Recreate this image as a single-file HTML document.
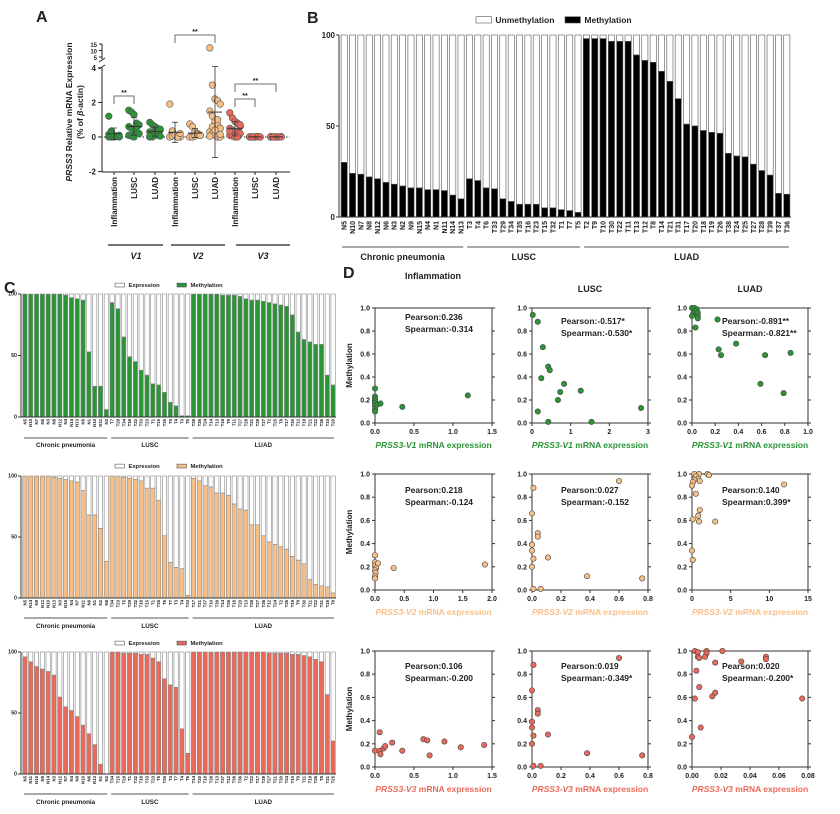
<!DOCTYPE html>
<html><head><meta charset="utf-8">
<style>
html,body{margin:0;padding:0;background:#fff;}
svg{display:block;font-family:"Liberation Sans",Arial,sans-serif;}
text{font-weight:bold;fill:#222;}
</style></head>
<body>
<svg id="fig" width="840" height="814" viewBox="0 0 840 814" xmlns="http://www.w3.org/2000/svg"></svg>
<script>
// ---------- Panel A data ----------
const aGroups = ['Inflammation','LUSC','LUAD','Inflammation','LUSC','LUAD','Inflammation','LUSC','LUAD'];
const aV1Infl = [1.2,0.35,0.1,0.05,0,0,0,0,0.05,0.1,0.15,0.2];
const aV1Lusc = [1.55,1.45,1.3,0.8,0.7,0.6,0.5,0.4,0.3,0.2,0.1,0.05,0,0.55];
const aV1Luad = [0.85,0.7,0.6,0.5,0.4,0.3,0.25,0.2,0.1,0.05,0,0,0.15,0.35,0.45,0.05];
const aV2Infl = [1.9,0.35,0.1,0,0,0,0.05,0.1,0,0.2];
const aV2Lusc = [0.75,0.6,0.3,0.2,0.1,0,0,0.05,0.15,0.1];
const aV2Luad = [12,3,2.2,2.1,1.9,1.5,1.2,0.9,0.7,0.5,0.3,0.2,0.1,0,0,0.05,0.6,0.4,1.0,0.15];
const aV3Infl = [1.4,1.1,0.9,0.8,0.6,0.5,0.4,0.3,0.25,0.2,0.1,0.05,0,0,0.7,0.35];
const aV3Lusc = [0,0,0,0.02,0,0.01,0,0,0.03,0,0,0.01];
const aV3Luad = [0,0.01,0,0,0.02,0,0,0.01,0,0,0.03,0];
const aTicks = [-2,0,2,4];
// ---------- Panel B data ----------
const bCats = ['N5','N10','N7','N8','N12','N6','N3','N2','N9','N15','N4','N1','N11','N14','N13','T3','T4','T6','T33','T29','T34','T35','T16','T23','T15','T32','T1','T7','T5','T2','T9','T10','T30','T22','T11','T13','T12','T8','T14','T21','T31','T17','T20','T18','T19','T26','T38','T24','T25','T27','T28','T39','T37','T36'];
const bMeth = [30,24,23.5,22,21,19,18,17,16,16,15,15,14.5,12,10, 21,20,16,15.5,10,8.5,7,7,7,5,5,4,3.5,2.5, 98,98,98,96.5,96.5,96.5,89,86,85,80,74.5,65,51,50,47.5,46.5,46,35,33.5,33,29,25.5,23,13,12.5];
const bGroups = ['Chronic pneumonia','LUSC','LUAD'];
const bGroupSizes = [15,14,25];
const stackTicks = [0,50,100];
// ---------- Panel C data ----------
const c1Cats = ['N5','N15','N7','N6','N3','N8','N12','N4','N14','N13','N9','N1','N10','N11','N2','T7','T29','T34','T16','T32','T33','T23','T1','T15','T35','T5','T4','T3','T6','T38','T26','T24','T14','T13','T18','T9','T11','T27','T28','T31','T39','T37','T2','T25','T8','T17','T30','T12','T19','T21','T22','T36','T10','T20'];
const c1Meth = [100,100,100,100,100,100,100,99,97,96,95,53,25,25,6, 93,88,65,49,45,38,34,27,26,20,12,9,1,1, 100,100,100,100,100,99,99,99,98,96,95,95,94,93,92,91,90,83,69,63,61,59,59,34,26];
const c2Cats = ['N5','N14','N9','N12','N10','N13','N3','N15','N4','N7','N11','N6','N1','N2','N8','T34','T23','T5','T29','T32','T16','T15','T1','T35','T6','T7','T3','T4','T33','T17','T21','T37','T10','T39','T14','T28','T18','T20','T13','T38','T27','T36','T12','T24','T2','T26','T19','T9','T30','T11','T22','T31','T25','T8'];
const c2Meth = [100,100,100,100,100,99,98,97,96,95,88,68,68,57,30, 100,100,99,98,97,96,90,90,80,51,29,25,24,2, 98,96,92,91,86,86,84,77,73,72,60,60,51,46,44,42,40,34,31,28,15,11,10,9,4];
const c3Cats = ['N5','N11','N15','N9','N14','N3','N12','N7','N4','N8','N10','N6','N13','N1','N2','T34','T15','T29','T1','T32','T16','T33','T23','T5','T35','T3','T7','T4','T6','T14','T20','T18','T28','T13','T37','T12','T38','T36','T2','T22','T17','T39','T27','T21','T30','T24','T10','T9','T11','T19','T26','T8','T31','T25'];
const c3Meth = [96,92,88,86,84,81,63,55,52,47,40,33,24,8,0, 100,100,99,99,99,98,98,95,92,78,73,71,37,17, 100,100,100,100,100,100,100,100,100,100,100,100,100,99,99,99,99,98,98,97,96,94,92,65,27];
// ---------- Panel D data ----------
const d11x=[0,0,0,0,0,0,0,0,0.03,0.07,0.35,1.19], d11y=[0.30,0.23,0.21,0.19,0.17,0.15,0.12,0.10,0.16,0.17,0.14,0.24];
const d12x=[0.02,0.15,0.28,0.42,0.46,0.24,0.83,0.73,1.26,0.67,0.15,0.42,1.54,2.82], d12y=[0.94,0.88,0.66,0.49,0.46,0.39,0.34,0.27,0.28,0.20,0.10,0.01,0.01,0.13];
const d13x=[0,0.02,0.04,0.01,0,0.03,0.05,0.05,0.05,0.03,0.22,0.23,0.25,0.38,0.63,0.85,0.59,0.79], d13y=[1.0,1.0,0.99,0.95,0.93,0.97,0.96,0.93,0.91,0.83,0.90,0.64,0.59,0.69,0.59,0.61,0.34,0.26];
const d21x=[0,0,0,0.02,0,0.01,0,0,0.05,0.32,1.88], d21y=[0.30,0.24,0.21,0.19,0.17,0.15,0.12,0.10,0.23,0.19,0.22];
const d22x=[0.01,0,0.04,0.04,0,0,0.01,0.11,0,0.01,0.06,0.38,0.76,0.60], d22y=[0.88,0.66,0.49,0.46,0.39,0.34,0.27,0.28,0.20,0.01,0.01,0.12,0.10,0.94];
const d23x=[0.3,0.9,2,2.2,0.5,0.8,0.3,0.1,0,1.0,0.5,1.0,0.8,0.9,0.1,3,11.9,0,0.1], d23y=[1.0,1.0,1.0,0.99,0.98,0.96,0.95,0.93,0.90,0.94,0.83,0.69,0.64,0.59,0.61,0.59,0.91,0.34,0.26];
const d31x=[0,0.06,0.06,0.07,0.11,0.13,0.22,0.35,0.62,0.67,0.70,0.89,1.10,1.40], d31y=[0.14,0.30,0.14,0.11,0.16,0.18,0.21,0.14,0.24,0.23,0.10,0.22,0.17,0.19];
const d32x=[0.01,0,0.04,0.04,0,0,0.01,0.11,0,0.01,0.06,0.38,0.76,0.60], d32y=[0.88,0.66,0.49,0.46,0.39,0.34,0.27,0.28,0.20,0.01,0.01,0.12,0.10,0.94];
const d33x=[0.002,0.004,0.01,0.021,0.01,0.004,0.005,0.009,0.003,0.016,0.034,0.051,0.051,0.005,0.002,0.014,0.016,0.076,0.006,0], d33y=[1.0,0.99,1.0,1.0,0.98,0.95,0.94,0.95,0.83,0.90,0.91,0.95,0.93,0.69,0.59,0.61,0.64,0.59,0.34,0.26];
const dStats = [['Pearson:0.236','Spearman:-0.314'],['Pearson:-0.517*','Spearman:-0.530*'],['Pearson:-0.891**','Spearman:-0.821**'],
 ['Pearson:0.218','Spearman:-0.124'],['Pearson:0.027','Spearman:-0.152'],['Pearson:0.140','Spearman:0.399*'],
 ['Pearson:0.106','Spearman:-0.200'],['Pearson:0.019','Spearman:-0.349*'],['Pearson:0.020','Spearman:-0.200*']];
const dYTicks=[0,0.2,0.4,0.6,0.8,1.0];

const NS='http://www.w3.org/2000/svg';
const svg=document.getElementById('fig');
const GREEN='#2a9437', ORANGE='#f7bf86', RED='#e9695b';
function mk(tag,attrs,parent){const e=document.createElementNS(NS,tag);for(const k in attrs)e.setAttribute(k,attrs[k]);(parent||svg).appendChild(e);return e;}
function txt(s,attrs,parent){const e=mk('text',attrs,parent);e.textContent=s;return e;}

// panel letters
[['A',36,22],['B',307,23],['C',4,293],['D',343,278]].forEach(p=>{
 const t=txt(p[0],{x:p[1],y:p[2],'font-size':16});
 
 
});

// ================= Panel A =================
(function(){
 const g=mk('g',{});
 
 
 const yA=v=> v<=4.5 ? 137-v*17.3 : 57-(v-5)*1.3;
 const xs=[114,134,155,175,195,215,235,255,276];
 mk('line',{x1:102,y1:68,x2:102,y2:172,stroke:'#222','stroke-width':1},g);
 mk('line',{x1:102,y1:44,x2:102,y2:59,stroke:'#222','stroke-width':1},g);
 mk('line',{x1:99,y1:62,x2:105,y2:58,stroke:'#222','stroke-width':1},g);
 mk('line',{x1:99,y1:69,x2:105,y2:65,stroke:'#222','stroke-width':1},g);
 mk('line',{x1:102,y1:172,x2:290,y2:172,stroke:'#222','stroke-width':1},g);
 aTicks.forEach(v=>{mk('line',{x1:98,y1:yA(v),x2:102,y2:yA(v),stroke:'#222'},g);
  const t=txt(String(v),{x:96,y:yA(v)+3,'font-size':8,'text-anchor':'end'},g);
  
  });
 [5,10,15].forEach(v=>{mk('line',{x1:99,y1:yA(v),x2:102,y2:yA(v),stroke:'#222'},g);
  txt(String(v),{x:97,y:yA(v)+3,'font-size':6,'text-anchor':'end'},g);});
 mk('line',{x1:104,y1:137,x2:290,y2:137,stroke:'#222','stroke-dasharray':'1.5,2'},g);
 const yt=txt('',{transform:'translate(72,112) rotate(-90)','font-size':8.5,'text-anchor':'middle'},g);
 yt.innerHTML='<tspan font-style="italic">PRSS3</tspan> Relative mRNA Expression';
 
 
 const yt2=txt('',{transform:'translate(83,112) rotate(-90)','font-size':8.5,'text-anchor':'middle'},g);
 yt2.innerHTML='(% of <tspan font-style="italic">β</tspan>-actin)';
 const sets=[aV1Infl,aV1Lusc,aV1Luad,aV2Infl,aV2Lusc,aV2Luad,aV3Infl,aV3Lusc,aV3Luad];
 const cols=[GREEN,GREEN,GREEN,ORANGE,ORANGE,ORANGE,RED,RED,RED];
 sets.forEach((arr,i)=>{
  const m=arr.reduce((a,b)=>a+b,0)/arr.length;
  const sd=Math.sqrt(arr.reduce((a,b)=>a+(b-m)*(b-m),0)/(arr.length-1));
  arr.forEach((v,j)=>{
   const c=mk('circle',{cx:xs[i]+((j%5)-2)*2.6,cy:yA(v),r:3.3,fill:cols[i],stroke:'#555','stroke-width':0.6},g);
   
   
  });
  mk('line',{x1:xs[i]-7,y1:yA(m),x2:xs[i]+7,y2:yA(m),stroke:'#333','stroke-width':1},g);
  mk('line',{x1:xs[i],y1:yA(m-sd),x2:xs[i],y2:yA(m+sd),stroke:'#333','stroke-width':0.8},g);
  mk('line',{x1:xs[i]-3,y1:yA(m+sd),x2:xs[i]+3,y2:yA(m+sd),stroke:'#333','stroke-width':0.8},g);
  mk('line',{x1:xs[i]-3,y1:yA(m-sd),x2:xs[i]+3,y2:yA(m-sd),stroke:'#333','stroke-width':0.8},g);
  mk('line',{x1:xs[i],y1:172,x2:xs[i],y2:175,stroke:'#222'},g);
  const t=txt(aGroups[i],{transform:`translate(${xs[i]+3},177) rotate(-90)`,'font-size':8,'text-anchor':'end','font-weight':'normal'},g);
  
  
 });
 [[0,1,96],[3,5,35],[6,7,99],[6,8,84]].forEach(s=>{
  const x1=xs[s[0]],x2=xs[s[1]],y=s[2];
  mk('polyline',{points:`${x1},${y+8} ${x1},${y} ${x2},${y} ${x2},${y+8}`,fill:'none',stroke:'#444','stroke-width':0.8},g);
  const t=txt('**',{x:(x1+x2)/2,y:y-1,'font-size':7,'text-anchor':'middle'},g);
  
  
 });
 [['V1',108,163,136],['V2',171,225,198],['V3',236,290,263]].forEach(v=>{
  mk('line',{x1:v[1],y1:245,x2:v[2],y2:245,stroke:'#222','stroke-width':1.2},g);
  const t=txt(v[0],{x:v[3],y:259,'font-size':9,'text-anchor':'middle','font-style':'italic'},g);
  
  
 });
})();

// ================= stacked bar helper =================
function stacked(name,cats,meth,box,fill,stroke,fs,legendLabels,legendY,legendX,lineY,grpY,labelStartY){
 const g=mk('g',{});
 
 
 const n=cats.length, slot=(box.x1-box.x0)/n, bw=slot*0.74;
 const ys=v=>box.yb-(v/100)*(box.yb-box.yt);
 cats.forEach((c,i)=>{
  const x=box.x0+i*slot+(slot-bw)/2;
  const r1=mk('rect',{x:x,y:ys(100),width:bw,height:ys(meth[i])-ys(100),fill:'#fff',stroke:stroke,'stroke-width':0.6},g);
  
  
  const r2=mk('rect',{x:x,y:ys(meth[i]),width:bw,height:box.yb-ys(meth[i]),fill:fill,stroke:stroke,'stroke-width':0.6},g);
  
  
  const t=txt(c,{transform:`translate(${x+bw/2+fs*0.35},${labelStartY}) rotate(-90)`,'font-size':fs,'text-anchor':'end'},g);
  
  
 });
 mk('line',{x1:box.x0-1,y1:box.yt,x2:box.x0-1,y2:box.yb,stroke:'#333'},g);
 mk('line',{x1:box.x0-1,y1:box.yb,x2:box.x1,y2:box.yb,stroke:'#333'},g);
 stackTicks.forEach(v=>{
  mk('line',{x1:box.x0-4,y1:ys(v),x2:box.x0-1,y2:ys(v),stroke:'#333'},g);
  const t=txt(String(v),{x:box.x0-5,y:ys(v)+fs*0.4,'font-size':fs+1,'text-anchor':'end'},g);
  
  
 });
 let k=0;
 bGroups.forEach((gn,i)=>{
  const a=box.x0+k*slot+2, b=box.x0+(k+bGroupSizes[i])*slot-2;
  mk('line',{x1:a,y1:lineY,x2:b,y2:lineY,stroke:'#555','stroke-width':1},g);
  const t=txt(gn,{x:(a+b)/2,y:grpY,'font-size':fs+2,'text-anchor':'middle'},g);
  
  
  k+=bGroupSizes[i];
 });
 const lg=mk('g',{},g);
 
 
 const sw=fs*2.2, sh=fs*0.9;
 mk('rect',{x:legendX[0],y:legendY-sh,width:sw,height:sh,fill:'#fff',stroke:'#555','stroke-width':0.6},lg);
 txt(legendLabels[0],{x:legendX[0]+sw+4,y:legendY,'font-size':fs+1.5},lg);
 mk('rect',{x:legendX[1],y:legendY-sh,width:sw,height:sh,fill:fill,stroke:'#555','stroke-width':0.6},lg);
 txt(legendLabels[1],{x:legendX[1]+sw+4,y:legendY,'font-size':fs+1.5},lg);
}
stacked('panel-b-methylation-bars',bCats,bMeth,{x0:340,x1:791,yt:35,yb:217},'#000','#555',7,['Unmethylation','Methylation'],23,[476,565],247,260,221);
stacked('panel-c-v1-bars',c1Cats,c1Meth,{x0:22,x1:336,yt:294,yb:417},GREEN,'#888',4.3,['Expression','Methylation'],287,[115,177],438,447,419);
stacked('panel-c-v2-bars',c2Cats,c2Meth,{x0:22,x1:336,yt:476,yb:598},ORANGE,'#888',4.3,['Expression','Methylation'],468,[115,177],618,628,600);
stacked('panel-c-v3-bars',c3Cats,c3Meth,{x0:22,x1:336,yt:652,yb:774},RED,'#888',4.3,['Expression','Methylation'],645,[115,177],794,804,776);

// ================= Panel D =================
const colX=[[375,492],[532,648],[692,808]];
const rowY=[[308,423],[474,590],[651,767]];
const dXs=[[d11x,d12x,d13x],[d21x,d22x,d23x],[d31x,d32x,d33x]];
const dYs=[[d11y,d12y,d13y],[d21y,d22y,d23y],[d31y,d32y,d33y]];
const dXTicks=[[[0,0.5,1,1.5],[0,1,2,3],[0,0.2,0.4,0.6,0.8,1]],[[0,0.5,1,1.5,2],[0,0.2,0.4,0.6,0.8],[0,5,10,15]],[[0,0.5,1,1.5],[0,0.2,0.4,0.6,0.8],[0,0.02,0.04,0.06,0.08]]];
const dXFmt=[[1,0,1],[1,1,0],[1,1,2]];
const rowCol=[GREEN,ORANGE,RED], rowGene=['PRSS3-V1','PRSS3-V2','PRSS3-V3'];
[['Inflammation',433,279],['LUSC',590,292],['LUAD',750,292]].forEach(t=>{
 const e=txt(t[0],{x:t[1],y:t[2],'font-size':9,'text-anchor':'middle'});
 
 
});
for(let r=0;r<3;r++)for(let c=0;c<3;c++){
 const g=mk('g',{});
 
 
 const [x0,x1]=colX[c],[yt,yb]=rowY[r];
 const ticks=dXTicks[r][c], xmax=ticks[ticks.length-1];
 const sx=v=>x0+v/xmax*(x1-x0), sy=v=>yb-v*(yb-yt);
 mk('rect',{x:x0,y:yt,width:x1-x0,height:yb-yt,fill:'none',stroke:'#333','stroke-width':1},g);
 dYTicks.forEach(v=>{
  mk('line',{x1:x0-3,y1:sy(v),x2:x0,y2:sy(v),stroke:'#333'},g);
  mk('line',{x1:x1,y1:sy(v),x2:x1+3,y2:sy(v),stroke:'#333'},g);
  const t=txt(v.toFixed(1),{x:x0-5,y:sy(v)+2.5,'font-size':7,'text-anchor':'end'},g);
  
  
 });
 ticks.forEach(v=>{
  mk('line',{x1:sx(v),y1:yb,x2:sx(v),y2:yb+3,stroke:'#333'},g);
  const t=txt(v.toFixed(dXFmt[r][c]),{x:sx(v),y:yb+11,'font-size':7,'text-anchor':'middle'},g);
  
  
 });
 dXs[r][c].forEach((xv,i)=>{
  const p=mk('circle',{cx:sx(xv),cy:sy(dYs[r][c][i]),r:2.7,fill:rowCol[r],stroke:'#444','stroke-width':0.6},g);
  
  
 });
 const st=dStats[r*3+c];
 const tx=[405,561,722][c], ty=[[320,324,324],[493,493,493],[669,669,669]][r][c];
 const t1=txt(st[0],{x:tx,y:ty,'font-size':8.5},g);
 
 
 const t2=txt(st[1],{x:tx,y:ty+12,'font-size':8.5},g);
 
 
 const xl=txt('',{x:(x0+x1)/2,y:yb+25,'font-size':8.5,'text-anchor':'middle',fill:rowCol[r],style:'fill:'+rowCol[r]},g);
 xl.innerHTML='<tspan font-style="italic">'+rowGene[r]+'</tspan> mRNA expression';
 
 
 if(c===0){
  const yl=txt('Methylation',{transform:`translate(352,${(yt+yb)/2}) rotate(-90)`,'font-size':8,'text-anchor':'middle'},g);
  
  
 }
}
</script>
</body></html>
